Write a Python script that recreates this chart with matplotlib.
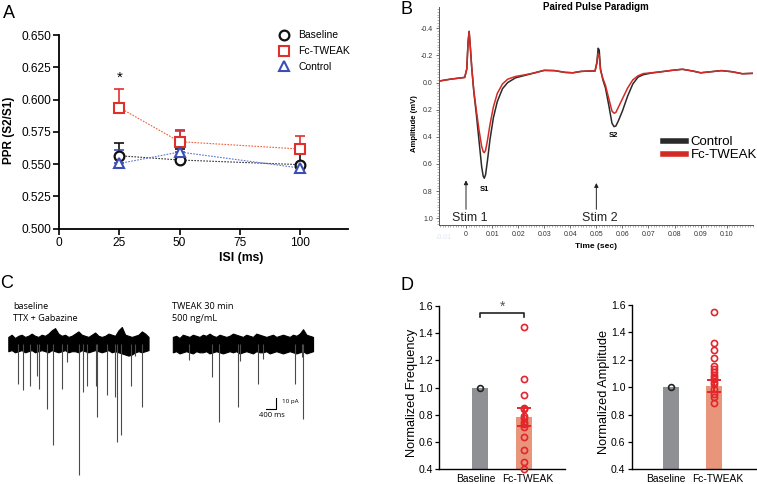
import matplotlib
matplotlib.use('Agg')
import matplotlib.pyplot as plt
from matplotlib.lines import Line2D
from matplotlib.ticker import MultipleLocator
from matplotlib.transforms import ScaledTranslation

plt.rcParams['font.family'] = ['Liberation Sans', 'DejaVu Sans']

W, H = 757, 484

# ---------------- Data ----------------
# Panel A : paired-pulse ratio
isi_ms = [25, 50, 100]
ppr_baseline = [0.5565, 0.5532, 0.5496]
ppr_baseline_err = [0.0100, 0.0083, 0.0090]
ppr_tweak = [0.5937, 0.5674, 0.5617]
ppr_tweak_err = [0.0142, 0.0082, 0.0100]
ppr_control = [0.5505, 0.5594, 0.5470]
ppr_control_err = [0.0108, 0.0170, 0.0030]
a_xticks = [0, 25, 50, 75, 100]
a_yticks = [0.500, 0.525, 0.550, 0.575, 0.600, 0.625, 0.650]

# Panel B : averaged field potential traces (time s, amplitude mV)
trace_t = [-0.0100, -0.0060, -0.0030, -0.0005, 0.0003, 0.0008, 0.0012, 0.0017,
           0.0022, 0.0030, 0.0040, 0.0050, 0.0060, 0.0066, 0.0070, 0.0075,
           0.0082, 0.0092, 0.0105, 0.0120, 0.0140, 0.0160, 0.0190, 0.0220,
           0.0260, 0.0300, 0.0340, 0.0380, 0.0410, 0.0440, 0.0470, 0.0495,
           0.0502, 0.0507, 0.0511, 0.0516, 0.0525, 0.0535, 0.0548, 0.0560,
           0.0568, 0.0575, 0.0585, 0.0600, 0.0620, 0.0640, 0.0660, 0.0680,
           0.0710, 0.0750, 0.0790, 0.0830, 0.0870, 0.0900, 0.0940, 0.0980,
           0.1020, 0.1060, 0.1100]
trace_control = [-0.012, -0.025, -0.032, -0.038, -0.100, -0.300, -0.378, -0.250,
                 -0.110, 0.070, 0.240, 0.430, 0.620, 0.690, 0.705, 0.680,
                 0.580, 0.420, 0.260, 0.140, 0.045, 0.000, -0.035, -0.050,
                 -0.070, -0.090, -0.088, -0.075, -0.072, -0.082, -0.085, -0.085,
                 -0.150, -0.253, -0.240, -0.100, -0.020, 0.040, 0.170, 0.300,
                 0.325, 0.320, 0.280, 0.210, 0.100, 0.010, -0.040, -0.058,
                 -0.070, -0.080, -0.090, -0.098, -0.085, -0.072, -0.080, -0.088,
                 -0.080, -0.065, -0.068]
trace_tweak = [-0.012, -0.025, -0.032, -0.038, -0.100, -0.300, -0.375, -0.250,
               -0.110, 0.060, 0.210, 0.350, 0.470, 0.510, 0.517, 0.500,
               0.430, 0.310, 0.180, 0.080, 0.010, -0.025, -0.045, -0.055,
               -0.070, -0.090, -0.088, -0.075, -0.072, -0.082, -0.085, -0.085,
               -0.140, -0.215, -0.200, -0.090, -0.030, 0.020, 0.120, 0.210,
               0.226, 0.220, 0.180, 0.120, 0.040, -0.020, -0.050, -0.066,
               -0.072, -0.080, -0.090, -0.098, -0.085, -0.072, -0.080, -0.088,
               -0.080, -0.065, -0.068]
b_xticks = [0.00, 0.01, 0.02, 0.03, 0.04, 0.05, 0.06, 0.07, 0.08, 0.09, 0.10]
b_xticklabels = ['0', '0.01', '0.02', '0.03', '0.04', '0.05', '0.06', '0.07', '0.08', '0.09', '0.10']
b_yticks = [-0.4, -0.2, 0.0, 0.2, 0.4, 0.6, 0.8, 1.0]
b_yticklabels = ['-0.4', '-0.2', '0.0', '0.2', '0.4', '0.6', '0.8', '1.0']

# Panel C : mEPSC recordings (time s, current pA)
noise_t = [0.000, 0.125, 0.250, 0.375, 0.500, 0.625, 0.750, 0.875, 1.000, 1.125,
           1.250, 1.375, 1.500, 1.625, 1.750, 1.875, 2.000, 2.125, 2.250, 2.375,
           2.500, 2.625, 2.750, 2.875, 3.000, 3.125, 3.250, 3.375, 3.500, 3.625,
           3.750, 3.875, 4.000, 4.125, 4.250, 4.375, 4.500, 4.625, 4.750, 4.875,
           5.000, 5.125, 5.250]
base_noise_top = [6, 8, 5, 7, 8, 6, 7, 9, 7, 6, 8, 7, 9, 12, 14, 9, 7, 8, 6, 7, 9, 11,
                  8, 7, 6, 8, 10, 7, 6, 7, 9, 8, 7, 12, 15, 8, 7, 6, 7, 8, 11, 9, 6]
base_noise_bot = [-7, -6, -8, -7, -6, -8, -7, -6, -8, -7, -6, -7, -8, -6, -7, -8, -7,
                  -6, -8, -7, -7, -8, -6, -7, -8, -7, -6, -7, -8, -7, -6, -8, -7, -8,
                  -9, -10, -11, -10, -8, -7, -8, -7, -6]
tweak_noise_top = [6, 7, 5, 8, 7, 6, 8, 7, 6, 8, 7, 9, 7, 6, 8, 7, 6, 7, 9, 8, 7, 6,
                   8, 7, 6, 9, 8, 7, 6, 7, 8, 6, 7, 8, 7, 6, 8, 7, 9, 13, 8, 7, 6]
tweak_noise_bot = [-8, -7, -9, -8, -7, -8, -9, -7, -8, -8, -7, -9, -8, -7, -8, -9, -8,
                   -7, -8, -7, -9, -8, -7, -8, -9, -7, -8, -8, -7, -9, -8, -7, -8, -9,
                   -8, -7, -8, -9, -8, -7, -9, -8, -7]
base_event_t = [0.37, 0.56, 0.81, 1.09, 1.16, 1.44, 1.66, 2.00, 2.19, 2.66, 2.79,
                2.94, 3.27, 3.33, 3.69, 4.00, 4.08, 4.21, 4.58, 4.75, 5.00]
base_event_amp = [36.6, 42.7, 38.2, 29.1, 41.2, 59.4, 92.7, 41.2, 17.0, 119.1, 44.3,
                  38.2, 38.2, 67.0, 46.4, 48.8, 89.7, 83.6, 38.2, 10.9, 57.3]
tweak_event_t = [0.61, 1.48, 1.71, 2.43, 2.53, 3.19, 3.39, 4.58, 4.83, 4.89]
tweak_event_amp = [14.8, 30.6, 71.5, 57.3, 15.5, 36.6, 13.9, 36.6, 12.5, 68.5]

# Panel D : normalized frequency / amplitude
d_groups = ['Baseline', 'Fc-TWEAK']
freq_means = [1.0, 0.785]
freq_sem = [0.0, 0.065]
freq_baseline_pts = [1.0]
freq_tweak_pts = [1.446, 1.060, 0.945, 0.852, 0.840, 0.791, 0.774, 0.749,
                  0.732, 0.713, 0.640, 0.542, 0.454, 0.405]
amp_means = [1.0, 1.009]
amp_sem = [0.0, 0.044]
amp_baseline_pts = [1.0]
amp_tweak_pts = [1.546, 1.325, 1.271, 1.211, 1.155, 1.133, 1.113, 1.089,
                 1.072, 1.057, 1.040, 1.021, 0.984, 0.948, 0.931, 0.887]
d_yticks = [0.4, 0.6, 0.8, 1.0, 1.2, 1.4, 1.6]

# ---------------- Figure ----------------
fig = plt.figure(figsize=(W / 100, H / 100), dpi=100)


def add_ax(l, t, r, b):
    return fig.add_axes([l / W, 1 - b / H, (r - l) / W, (b - t) / H])


def ftext(px, py, s, **kw):
    fig.text(px / W, 1 - py / H, s, **kw)


def center_labels(ax):
    ax.yaxis.label.set_va('center')
    ax.xaxis.label.set_va('center')


# Panel letters
ftext(3, 14, 'A', fontsize=13, va='center', ha='left')
ftext(401, 9, 'B', fontsize=13, va='center', ha='left')
ftext(0, 283, 'C', fontsize=13, va='center', ha='left')
ftext(400, 285, 'D', fontsize=13, va='center', ha='left')

# ---------- Panel A ----------
axA = add_ax(59.3, 35, 348, 228.7)
black, red, blue = '#111111', '#e0302c', '#3a4fb5'
axA.plot(isi_ms, ppr_baseline, ls=(0, (1.5, 1.2)), color='#333333', lw=0.8, zorder=2)
axA.plot(isi_ms, ppr_tweak, ls=(0, (1.5, 1.2)), color='#f0603a', lw=0.8, zorder=2)
axA.plot(isi_ms, ppr_control, ls=(0, (1.5, 1.2)), color='#5b74d0', lw=0.8, zorder=2)
for y, e, c in [(ppr_baseline, ppr_baseline_err, black),
                (ppr_control, ppr_control_err, blue),
                (ppr_tweak, ppr_tweak_err, red)]:
    axA.errorbar(isi_ms, y, yerr=[[0] * len(e), e], fmt='none', ecolor=c,
                 elinewidth=1.2, capsize=3.6, capthick=1.2, zorder=3)
axA.plot(isi_ms, ppr_baseline, 'o', ms=7, mfc='white', mec=black, mew=1.6, ls='none', zorder=4)
axA.plot(isi_ms, ppr_tweak, 's', ms=7.5, mfc='white', mec=red, mew=1.5, ls='none', zorder=4)
axA.plot(isi_ms, ppr_control, '^', ms=7, mfc='white', mec=blue, mew=1.5, ls='none', zorder=4)
axA.text(25, 0.6165, '*', ha='center', va='center', fontsize=11)
axA.set_xlim(0, 120)
axA.set_ylim(0.5, 0.65)
axA.set_xticks(a_xticks)
axA.set_yticks(a_yticks)
axA.set_yticklabels([f'{v:.3f}' for v in a_yticks])
for s in ['top', 'right']:
    axA.spines[s].set_visible(False)
for s in ['left', 'bottom']:
    axA.spines[s].set_linewidth(1.3)
axA.tick_params(direction='out', length=4, width=1.2, labelsize=8.6, pad=2)
axA.set_ylabel('PPR (S2/S1)', fontsize=8.5, fontweight='bold')
axA.set_xlabel('ISI (ms)', fontsize=8.8, fontweight='bold')
center_labels(axA)
axA.yaxis.set_label_coords((9 - 59.3) / 288.7, (228.7 - 130) / 193.7)
axA.xaxis.set_label_coords((240.7 - 59.3) / 288.7, (228.7 - 258) / 193.7)
handles = [Line2D([], [], marker='o', ls='none', ms=7, mfc='white', mec=black, mew=1.6),
           Line2D([], [], marker='s', ls='none', ms=7.5, mfc='white', mec=red, mew=1.5),
           Line2D([], [], marker='^', ls='none', ms=7, mfc='white', mec=blue, mew=1.5)]
axA.legend(handles, ['Baseline', 'Fc-TWEAK', 'Control'], loc='upper left',
           bbox_to_anchor=((278 - 59.3) / 288.7, (228.7 - 30.5) / 193.7),
           frameon=False, fontsize=7.5, handletextpad=0.75, labelspacing=0.55,
           borderaxespad=0, borderpad=0, handlelength=1.2)

# ---------- Panel B ----------
axB = add_ax(439, 7, 753, 225)
axB.plot(trace_t, trace_control, color='#2a2a2a', lw=1.1, zorder=3)
axB.plot(trace_t, trace_tweak, color='#d42a25', lw=1.1, zorder=4)
axB.set_xlim(-0.01036, 0.1101)
axB.set_ylim(1.05, -0.557)
axB.set_xticks(b_xticks)
axB.set_xticklabels(b_xticklabels)
axB.set_yticks(b_yticks)
axB.set_yticklabels(b_yticklabels)
axB.xaxis.set_minor_locator(MultipleLocator(0.001))
axB.yaxis.set_minor_locator(MultipleLocator(0.02))
for s in ['top', 'right']:
    axB.spines[s].set_visible(False)
for s in ['left', 'bottom']:
    axB.spines[s].set_linewidth(0.7)
    axB.spines[s].set_color('#555555')
axB.tick_params(which='major', direction='out', length=2.5, width=0.6, color='#555555',
                labelsize=5, labelcolor='#333333', pad=2)
axB.tick_params(which='minor', direction='out', length=1.3, width=0.4, color='#777777')
axB.text(-0.0085, 1.12, '-0.01', fontsize=5, color='#dfe5ef', ha='center', va='top',
         clip_on=False)
axB.set_xlabel('Time (sec)', fontsize=6, fontweight='bold')
axB.set_ylabel('Amplitude (mV)', fontsize=5.5, fontweight='bold')
center_labels(axB)
axB.xaxis.set_label_coords((596 - 439) / 314, (225 - 247) / 218)
axB.yaxis.set_label_coords((415 - 439) / 314, (225 - 123.3) / 218)
axB.set_title('Paired Pulse Paradigm', fontsize=7, fontweight='bold', pad=0, y=0.985)
axB.annotate('', xy=(0.0, 0.70), xytext=(0.0, 0.955),
             arrowprops=dict(arrowstyle='-|>', color='#222222', lw=0.7,
                             mutation_scale=6))
axB.annotate('', xy=(0.05, 0.72), xytext=(0.05, 0.955),
             arrowprops=dict(arrowstyle='-|>', color='#222222', lw=0.7,
                             mutation_scale=6))
axB.text(0.0015, 1.0, 'Stim 1', fontsize=9, ha='center', va='center', color='#222222')
axB.text(0.0512, 1.0, 'Stim 2', fontsize=9, ha='center', va='center', color='#222222')
axB.text(0.0069, 0.785, 'S1', fontsize=5.5, fontweight='bold', ha='center', va='center')
axB.text(0.0565, 0.39, 'S2', fontsize=5.5, fontweight='bold', ha='center', va='center')
bh = [Line2D([], [], color='#2a2a2a', lw=4), Line2D([], [], color='#d42a25', lw=4)]
axB.legend(bh, ['Control', 'Fc-TWEAK'], loc='upper left',
           bbox_to_anchor=((663 - 439) / 314, (225 - 136) / 218),
           frameon=False, fontsize=9.5, handlelength=1.75, handletextpad=0.35,
           labelspacing=0.05, borderaxespad=0, borderpad=0)

# ---------- Panel C ----------
axC = add_ax(0, 295, 320, 484)
axC.set_axis_off()
axC.set_xlim(-0.311, 11.67)
axC.set_ylim(-127.7, 44.1)
tweak_offset = 6.16
cfont = ['Open Sans', 'DejaVu Sans']
axC.fill_between(noise_t, base_noise_bot, base_noise_top, color='black', lw=0.8)
axC.vlines(base_event_t, 0, [-a for a in base_event_amp], color='#4a4a4a', lw=0.8)
tw_t = [t + tweak_offset for t in noise_t]
axC.fill_between(tw_t, tweak_noise_bot, tweak_noise_top, color='black', lw=0.8)
axC.vlines([t + tweak_offset for t in tweak_event_t], 0, [-a for a in tweak_event_amp],
           color='#4a4a4a', lw=0.8)
# scale bar: 400 ms, 10 pA
axC.plot([9.63, 10.03, 10.03], [-59.8, -59.8, -49.8], color='black', lw=0.8)
axC.text(10.24, -52.9, '10 pA', fontsize=4.5, ha='left', va='center', family=cfont)
axC.text(9.86, -65.5, '400 ms', fontsize=5.5, ha='center', va='center', family=cfont)
ftext(13.3, 306.7, 'baseline', fontsize=6.6, va='center', ha='left', family=cfont)
ftext(13.3, 318.3, 'TTX + Gabazine', fontsize=6.6, va='center', ha='left', family=cfont)
ftext(172.3, 306.7, 'TWEAK 30 min', fontsize=6.6, va='center', ha='left', family=cfont)
ftext(172.3, 318.3, '500 ng/mL', fontsize=6.6, va='center', ha='left', family=cfont)

# ---------- Panel D ----------
bar_colors = ['#8f9094', '#e8957b']
pt_red = '#e3262c'


def panel_d(ax, means, sem, base_pts, tw_pts, ylabel, xlim):
    x = [0, 1]
    ax.bar(x, [m - 0.4 for m in means], bottom=0.4, width=0.37, color=bar_colors, zorder=1)
    ax.plot([0] * len(base_pts), base_pts, 'o', ms=4.2, mfc='none', mec='#222222', mew=1.2, zorder=3)
    ax.plot([1] * len(tw_pts), tw_pts, 'o', ms=4.4, mfc='none', mec=pt_red, mew=1.2,
            zorder=3, clip_on=False)
    ax.errorbar([1], [means[1]], yerr=[sem[1]], fmt='none', ecolor=pt_red, elinewidth=1.4,
                capsize=4.7, capthick=1.4, zorder=4)
    ax.set_xlim(*xlim)
    ax.set_ylim(0.4, 1.6)
    ax.set_yticks(d_yticks)
    ax.set_yticklabels([f'{v:.1f}' for v in d_yticks])
    ax.set_xticks(x)
    ax.set_xticklabels(d_groups)
    for s in ['top', 'right']:
        ax.spines[s].set_visible(False)
    for s in ['left', 'bottom']:
        ax.spines[s].set_linewidth(1.0)
    ax.tick_params(axis='y', direction='out', length=3, width=0.9, labelsize=7.6, pad=1.5)
    ax.tick_params(axis='x', length=0, labelsize=7.4, pad=3.5)
    labs = ax.get_xticklabels()
    labs[0].set_transform(labs[0].get_transform() + ScaledTranslation(-3.5 / 72, 0, fig.dpi_scale_trans))
    labs[1].set_transform(labs[1].get_transform() + ScaledTranslation(3.0 / 72, 0, fig.dpi_scale_trans))
    ax.set_ylabel(ylabel, fontsize=9.2)
    center_labels(ax)


axD1 = add_ax(439.3, 305.7, 565, 469.3)
panel_d(axD1, freq_means, freq_sem, freq_baseline_pts, freq_tweak_pts,
        'Normalized Frequency', (-0.95, 1.95))
axD1.yaxis.set_label_coords((411.7 - 439.3) / 125.7, 0.47)
axD1.plot([0, 0, 1, 1], [1.52, 1.544, 1.544, 1.52], color='#222222', lw=1.2, clip_on=False)
axD1.text(0.5, 1.59, '*', ha='center', va='center', fontsize=10, color='#555555', clip_on=False)

axD2 = add_ax(631.7, 305, 757, 469.3)
panel_d(axD2, amp_means, amp_sem, amp_baseline_pts, amp_tweak_pts,
        'Normalized Amplitude', (-0.91, 2.0))
axD2.yaxis.set_label_coords((604 - 631.7) / 125.3, 0.47)

fig.savefig('out.png', dpi=100)
